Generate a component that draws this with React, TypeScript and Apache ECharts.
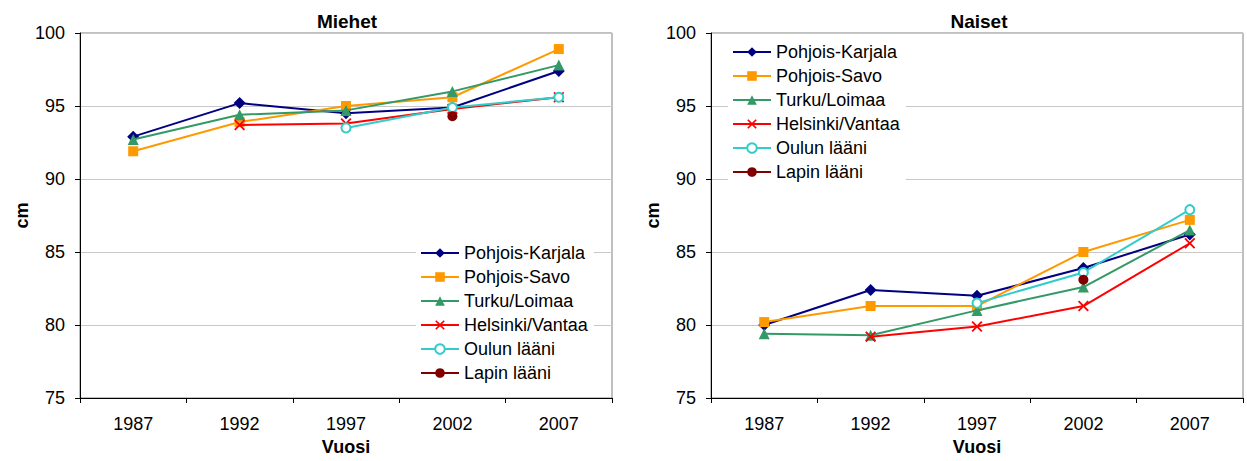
import React, { useEffect, useRef } from "react";
import * as echarts from "echarts";

const years = ["1987", "1992", "1997", "2002", "2007"];
const seriesNames = [
  "Pohjois-Karjala",
  "Pohjois-Savo",
  "Turku/Loimaa",
  "Helsinki/Vantaa",
  "Oulun lääni",
  "Lapin lääni",
];

// Miehet (men)
const menPohjoisKarjala = [92.9, 95.2, 94.5, 94.9, 97.4];
const menPohjoisSavo = [91.9, 93.9, 95.0, 95.6, 98.9];
const menTurkuLoimaa = [92.7, 94.4, 94.7, 96.0, 97.8];
const menHelsinkiVantaa = [null, 93.7, 93.8, 94.8, 95.6];
const menOulu = [null, null, 93.5, 94.9, 95.6];
const menLappi = [null, null, null, 94.3, null];

// Naiset (women)
const womenPohjoisKarjala = [80.0, 82.4, 82.0, 83.9, 86.2];
const womenPohjoisSavo = [80.2, 81.3, 81.3, 85.0, 87.2];
const womenTurkuLoimaa = [79.4, 79.3, 81.0, 82.6, 86.5];
const womenHelsinkiVantaa = [null, 79.2, 79.9, 81.3, 85.6];
const womenOulu = [null, null, 81.5, 83.6, 87.9];
const womenLappi = [null, null, null, 83.1, null];

const yTicks = { min: 75, max: 100, interval: 5 };

const colors = ["#000080", "#FF9900", "#339966", "#FF0000", "#33CCCC", "#800000"];
const crossPath =
  "path://M0,1.2L1.2,0L5,3.8L8.8,0L10,1.2L6.2,5L10,8.8L8.8,10L5,6.2L1.2,10L0,8.8L3.8,5Z";
const symbols = ["diamond", "rect", "triangle", crossPath, "emptyCircle", "circle"];
const symbolSizes = [12, 10, 11, 11, 9, 10];

const FONT = "'Liberation Sans', Arial, sans-serif";

export default function App() {
  const ref = useRef<HTMLDivElement>(null);

  useEffect(() => {
    if (!ref.current) return;
    const chart = echarts.init(ref.current, null, { renderer: "svg" });

    const grids = [
      { left: 80, top: 33, width: 532, height: 365 },
      { left: 711, top: 33, width: 532, height: 365 },
    ];

    const makeX = (gi: number) => ({
      type: "category",
      gridIndex: gi,
      data: years,
      boundaryGap: true,
      name: "Vuosi",
      nameLocation: "middle",
      nameGap: 40,
      nameTextStyle: { fontFamily: FONT, fontSize: 18, fontWeight: "bold", color: "#000" },
      axisLine: { lineStyle: { color: "#000", width: 1 } },
      axisTick: { show: true, length: 5, alignWithLabel: false, lineStyle: { color: "#000" } },
      axisLabel: { fontFamily: FONT, fontSize: 18, color: "#000", margin: 17 },
      splitLine: { show: false },
    });

    const makeY = (gi: number) => ({
      type: "value",
      gridIndex: gi,
      min: yTicks.min,
      max: yTicks.max,
      interval: yTicks.interval,
      name: "cm",
      nameLocation: "middle",
      nameGap: 46,
      nameRotate: 90,
      nameTextStyle: { fontFamily: FONT, fontSize: 18, fontWeight: "bold", color: "#000" },
      axisLine: { show: true, lineStyle: { color: "#000", width: 1 } },
      axisTick: { show: true, length: 5, inside: false, lineStyle: { color: "#000" } },
      axisLabel: { fontFamily: FONT, fontSize: 18, color: "#000", margin: 15 },
      splitLine: { show: true, lineStyle: { color: "#C8C8C8", width: 1 } },
    });

    const menData = [
      menPohjoisKarjala,
      menPohjoisSavo,
      menTurkuLoimaa,
      menHelsinkiVantaa,
      menOulu,
      menLappi,
    ];
    const womenData = [
      womenPohjoisKarjala,
      womenPohjoisSavo,
      womenTurkuLoimaa,
      womenHelsinkiVantaa,
      womenOulu,
      womenLappi,
    ];

    const makeSeries = (data: (number | null)[][], gi: number) =>
      data.map((d, i) => ({
        type: "line",
        name: seriesNames[i],
        xAxisIndex: gi,
        yAxisIndex: gi,
        data: d.map((v) => (v === null ? "-" : v)),
        symbol: symbols[i],
        symbolSize: symbolSizes[i],
        showAllSymbol: true,
        color: colors[i],
        lineStyle: { color: colors[i], width: 2 },
        itemStyle: { color: colors[i] },
        z: 2 + i,
      }));

    const legendCommon = {
      orient: "vertical",
      itemWidth: 38,
      itemHeight: 12,
      itemGap: 6,
      backgroundColor: "#fff",
      padding: [4, 6, 4, 4],
      textStyle: { fontFamily: FONT, fontSize: 18, color: "#000", padding: [0, 0, 0, 0] },
      data: seriesNames,
      selectedMode: false,
    };

    chart.setOption({
      animation: false,
      backgroundColor: "#fff",
      title: [
        {
          text: "Miehet",
          left: 342,
          top: 7,
          textAlign: "center",
          textStyle: { fontFamily: FONT, fontSize: 19, fontWeight: "bold", color: "#000" },
        },
        {
          text: "Naiset",
          left: 974,
          top: 7,
          textAlign: "center",
          textStyle: { fontFamily: FONT, fontSize: 19, fontWeight: "bold", color: "#000" },
        },
      ],
      grid: grids.map((g) => ({ ...g, show: true, borderColor: "#808080", borderWidth: 1, backgroundColor: "transparent" })),
      xAxis: [makeX(0), makeX(1)],
      yAxis: [makeY(0), makeY(1)],
      legend: [
        { ...legendCommon, left: 416, top: 240 },
        { ...legendCommon, left: 728, top: 39 },
      ],
      series: [...makeSeries(menData, 0), ...makeSeries(womenData, 1)],
    });

    return () => chart.dispose();
  }, []);

  return (
    <div
      ref={ref}
      style={{ position: "absolute", left: 0, top: 0, width: 1247, height: 461 }}
    />
  );
}
